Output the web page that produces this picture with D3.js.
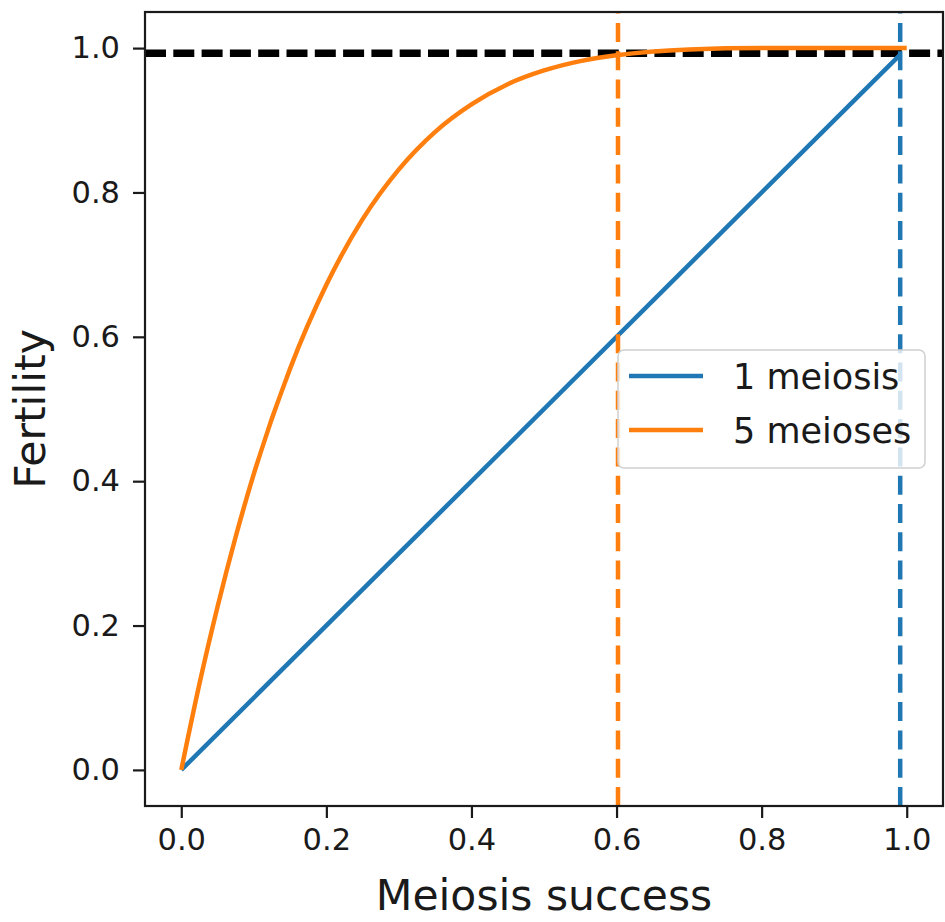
<!DOCTYPE html>
<html>
<head>
<meta charset="utf-8">
<script src="https://cdn.jsdelivr.net/npm/d3@7"></script>
<style>
  body { margin: 0; background: #fff; }
  text { font-family: "DejaVu Sans", sans-serif; fill: #1a1a1a; }
</style>
</head>
<body>
<div id="chart"></div>
<script>
// global constants
const W = 945;
const H = 922;
const MARGIN = { top: 12, right: 2, bottom: 116, left: 145 };
const WIDTH = W - MARGIN.left - MARGIN.right;
const HEIGHT = H - MARGIN.top - MARGIN.bottom;
const BLUE = "#1f77b4";
const ORANGE = "#ff7f0e";

// data
const seriesNames = ["1 meiosis", "5 meioses"];
const oneMeiosisX = [0, 0.99];
const oneMeiosisY = [0, 0.99];
const fiveMeiosesX = [0, 0.025, 0.05, 0.075, 0.1, 0.15, 0.2, 0.25, 0.3, 0.35, 0.4, 0.45, 0.5, 0.55, 0.6, 0.7, 0.8, 0.9, 1.0];
const fiveMeiosesY = [0, 0.119, 0.226, 0.323, 0.41, 0.556, 0.672, 0.763, 0.832, 0.884, 0.922, 0.95, 0.969, 0.982, 0.99, 0.998, 1.0, 1.0, 1.0];
const thresholdY = 0.993;
const vlineOrangeX = 0.602;
const vlineBlueX = 0.991;
const xTicks = [0, 0.2, 0.4, 0.6, 0.8, 1.0];
const yTicks = [0, 0.2, 0.4, 0.6, 0.8, 1.0];

const svg = d3.select("#chart")
  .append("svg")
  .attr("width", W)
  .attr("height", H);

const g = svg.append("g")
  .attr("transform", `translate(${MARGIN.left},${MARGIN.top})`);

const x = d3.scaleLinear().domain([-0.05, 1.05]).range([0, WIDTH]);
const y = d3.scaleLinear().domain([-0.05, 1.05]).range([HEIGHT, 0]);

svg.append("defs").append("clipPath").attr("id", "clip")
  .append("rect").attr("width", WIDTH).attr("height", HEIGHT);

const plot = g.append("g").attr("clip-path", "url(#clip)");

// horizontal threshold line
plot.append("line")
  .attr("x1", 0).attr("x2", WIDTH)
  .attr("y1", y(thresholdY)).attr("y2", y(thresholdY))
  .attr("stroke", "#000")
  .attr("stroke-width", 7.5)
  .attr("stroke-dasharray", "21,7.3");

// curves
const line = d3.line().x((d) => x(d[0])).y((d) => y(d[1]));
plot.append("path")
  .datum(d3.zip(oneMeiosisX, oneMeiosisY))
  .attr("fill", "none")
  .attr("stroke", BLUE)
  .attr("stroke-width", 4.5)
  .attr("d", line);

plot.append("path")
  .datum(d3.zip(fiveMeiosesX, fiveMeiosesY))
  .attr("fill", "none")
  .attr("stroke", ORANGE)
  .attr("stroke-width", 4.5)
  .attr("d", line.curve(d3.curveMonotoneX));

// vertical dashed lines, drawn bottom to top
[[vlineOrangeX, ORANGE], [vlineBlueX, BLUE]].forEach(([v, c]) => {
  plot.append("line")
    .attr("x1", x(v)).attr("x2", x(v))
    .attr("y1", HEIGHT).attr("y2", 0)
    .attr("stroke", c)
    .attr("stroke-width", 4.5)
    .attr("stroke-dasharray", "19,9.3");
});

// axes
const xAxis = g.append("g")
  .attr("transform", `translate(0,${HEIGHT})`)
  .call(d3.axisBottom(x).tickValues(xTicks).tickFormat(d3.format(".1f")).tickSize(12).tickPadding(10).tickSizeOuter(0));
const yAxis = g.append("g")
  .call(d3.axisLeft(y).tickValues(yTicks).tickFormat(d3.format(".1f")).tickSize(12).tickPadding(13).tickSizeOuter(0));

[xAxis, yAxis].forEach((a) => {
  a.select(".domain").remove();
  a.selectAll(".tick line").attr("stroke", "#1a1a1a").attr("stroke-width", 2.2);
  a.selectAll(".tick text").attr("font-size", 30.5).style("font-family", "DejaVu Sans");
});

// frame
g.append("rect")
  .attr("width", WIDTH).attr("height", HEIGHT)
  .attr("fill", "none")
  .attr("stroke", "#1a1a1a")
  .attr("stroke-width", 2.2);

// axis labels
svg.append("text")
  .attr("x", MARGIN.left + WIDTH / 2)
  .attr("y", 910)
  .attr("text-anchor", "middle")
  .attr("font-size", 42.5)
  .text("Meiosis success");

svg.append("text")
  .attr("transform", `translate(45,${MARGIN.top + HEIGHT / 2}) rotate(-90)`)
  .attr("text-anchor", "middle")
  .attr("font-size", 42.5)
  .text("Fertility");

// legend
const legend = svg.append("g").attr("transform", "translate(618,350)");
legend.append("rect")
  .attr("width", 307).attr("height", 118)
  .attr("rx", 6)
  .attr("fill", "#fff").attr("fill-opacity", 0.8)
  .attr("stroke", "#d0d0d0").attr("stroke-width", 1.5);
seriesNames.forEach((name, i) => {
  const row = legend.append("g").attr("transform", `translate(0,${26 + i * 54})`);
  row.append("line")
    .attr("x1", 11).attr("x2", 85)
    .attr("stroke", i === 0 ? BLUE : ORANGE)
    .attr("stroke-width", 4.5);
  row.append("text")
    .attr("x", 115)
    .attr("dy", "0.36em")
    .attr("font-size", 35)
    .text(name);
});
</script>
</body>
</html>
